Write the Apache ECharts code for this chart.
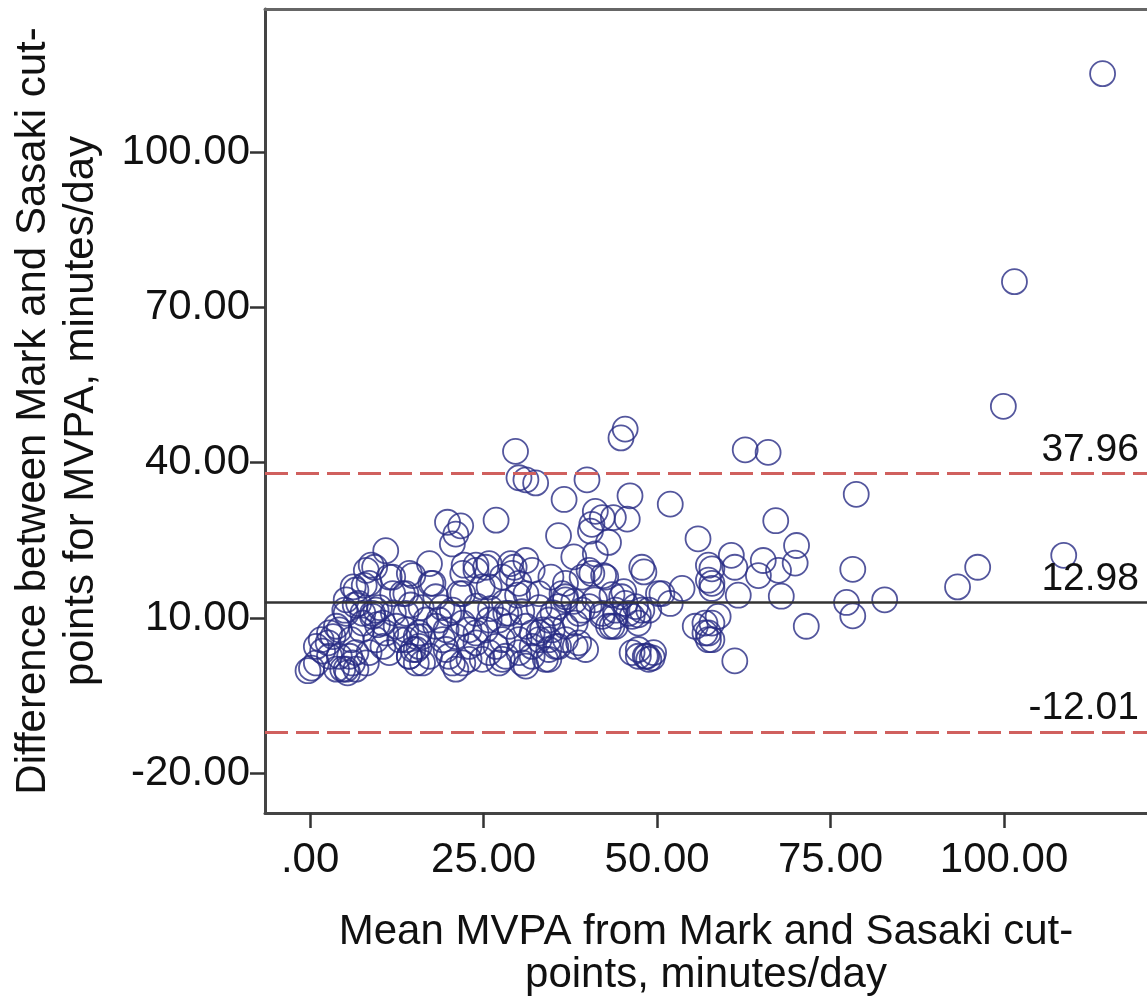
<!DOCTYPE html>
<html>
<head>
<meta charset="utf-8">
<script src="https://cdn.jsdelivr.net/npm/echarts@6/dist/echarts.min.js"></script>
<style>
  html, body { margin: 0; padding: 0; background: #fff; }
  #chart { width: 1147px; height: 1002px; }
</style>
</head>
<body>
<div id="chart"></div>
<script>
// Bland-Altman plot: Mark vs Sasaki cut-points, MVPA minutes/day

var X_TICKS = [0, 25, 50, 75, 100];
var Y_TICKS = [-20, 10, 40, 70, 100];

var MEAN_DIFF = 12.98;
var UPPER_LOA = 37.96;
var LOWER_LOA = -12.01;

// mean of the two methods (x)
var meanMvpa = [
  114.2, 101.5, 99.9, 45.4, 44.8, 29.6, 62.7, 66.0, 30.1, 31.1,
  32.5, 39.9, 36.6, 46.1, 51.9, 78.7, 26.8, 41.1, 40.6, 42.1,
  43.7, 45.7, 40.4, 43.0, 35.8, 55.9, 38.0, 41.1, 31.1, 28.9,
  47.8, 57.4, 19.8, 21.7, 21.0, 20.5, 10.9, 8.8, 17.2, 23.9,
  25.8, 67.1, 70.1, 60.7, 65.3, 69.9, 57.9, 61.2, 64.6, 67.5,
  78.2, 57.9, 57.9, 61.7, 67.9, 77.3, 82.8, 78.2, 71.5, 58.8,
  57.9, 56.9, 57.4, 61.2, 108.6, 96.2, 93.3, 9.3, 11.9, 7.8,
  14.8, 17.4, 22.2, 25.3, 29.4, 34.7, 36.3, 36.8, 31.1, 22.0,
  24.8, 13.8, 6.2, 5.2, 40.2, 42.3, 48.1, 50.2, 53.6, 51.9,
  45.2, 47.3, 43.0, 48.5,
  -0.3, 0.2, 0.9, 1.8, 2.6, 3.3, 4.2, 5.2, 4.7, 5.4,
  3.8, 6.1, 5.9, 7.4, 8.5, 9.0, 9.7, 10.9, 11.4, 12.9,
  13.8, 14.8, 15.3, 16.2, 16.7, 17.2, 18.6, 19.6, 20.5, 21.0,
  22.0, 22.9, 23.9, 25.3, 25.8, 27.2, 27.7,
  6.6, 8.5, 8.1, 11.4, 11.9, 14.3, 13.3, 17.7, 18.1, 22.0,
  23.9, 25.8, 27.7, 21.5,
  29.1, 32.0, 40.6, 42.6, 29.9, 33.0, 36.8, 40.2, 44.9, 45.4,
  50.7, 57.4, 56.9, 57.4, 57.9, 43.5, 47.3, 47.3, 48.3, 49.3,
  28.7, 31.1, 33.0, 32.0, 34.4, 34.9, 36.8, 38.2, 39.7, 30.6,
  28.2, 35.8, 47.8,
  0.9, 1.6, 2.8, 3.8, 5.0, 5.7, 5.2, 6.6, 7.6, 9.0,
  9.5, 10.5, 12.4, 13.8, 14.3, 15.3, 16.2, 15.7, 18.1, 19.1,
  20.0, 21.0, 22.0, 22.9, 23.9, 24.8, 25.8, 26.8, 27.7, 28.7,
  30.1, 31.1, 32.0, 33.0, 33.9, 34.4, 35.4, 36.8, 38.2, 39.2,
  44.0, 42.1, 45.9, 46.9, 48.8, 46.4, 47.3, 48.8, 49.5, 55.5,
  6.5, 10.0, 14.5, 19.0, 24.0, 28.0, 33.0, 38.0, 44.0,
  7.6, 9.5, 10.5, 13.8, 15.3, 15.7, 14.3, 19.6, 20.0, 22.9,
  23.9, 28.2, 4.2, 2.8, 6.6, 8.1,
  33.5, 34.4, 32.0, 30.1, 35.8, 38.7, 38.7, 42.1, 44.0, 46.4,
  27.2, 34.4, 30.1, 36.8, 39.2,
  7.0, 12.0, 16.0, 20.5, 26.0, 30.5, 35.0, 41.0, 43.5
];

// difference between the two methods (y)
var diffMvpa = [
  115.2, 75.0, 50.9, 46.5, 44.8, 42.2, 42.5, 42.0, 37.1, 36.7,
  36.1, 36.7, 32.9, 33.6, 32.0, 33.9, 28.9, 30.6, 28.1, 29.4,
  29.4, 29.1, 26.8, 24.6, 25.9, 25.3, 21.8, 22.4, 21.1, 20.5,
  19.8, 20.2, 28.5, 27.8, 26.2, 24.3, 23.0, 20.2, 20.5, 20.2,
  20.5, 28.8, 24.0, 22.1, 21.1, 20.6, 19.5, 19.8, 18.2, 19.2,
  19.4, 16.7, 15.7, 14.4, 14.2, 13.0, 13.5, 10.4, 8.4, 10.3,
  9.0, 7.1, 5.8, 1.7, 22.1, 19.8, 16.0, 19.8, 17.9, 16.3,
  18.2, 16.7, 20.2, 19.8, 19.8, 17.9, 14.7, 13.5, 14.7, 14.7,
  16.0, 14.7, 16.0, 13.5, 19.2, 18.2, 18.9, 14.7, 15.7, 12.8,
  15.1, 10.6, 8.4, 2.6,
  -0.2, 0.3, 1.3, 3.6, 5.2, 6.4, 7.7, 10.9, 0.1, -0.6,
  0.1, 1.3, 5.8, 7.7, 3.3, 10.3, 8.7, 7.1, 3.3, 5.8,
  7.7, 3.9, 1.3, 6.4, 9.6, 2.6, 9.6, 3.9, 1.3, 6.4,
  9.0, 2.0, 5.2, 7.7, 3.3, 9.6, 5.8,
  15.4, 16.7, 19.2, 17.9, 14.7, 18.6, 14.7, 16.7, 14.1, 18.6,
  19.2, 16.0, 17.9, 14.7,
  18.6, 19.2, 18.6, 17.9, 14.4, 14.7, 14.1, 12.2, 14.1, 12.8,
  14.7, 17.3, 9.0, 7.1, 5.8, 8.4, 9.0, 3.9, 2.6, 2.3,
  10.9, 8.4, 5.8, 2.6, 3.9, 7.7, 5.8, 9.0, 3.9, 1.3,
  2.6, 12.2, 11.5,
  4.5, 5.8, 7.1, 8.4, 11.5, 2.6, 0.1, 0.1, 9.0, 10.9,
  5.8, 9.0, 8.4, 5.8, 2.6, 3.9, 1.3, 7.1, 8.4, 5.8,
  2.6, 0.1, 1.3, 4.5, 7.1, 2.0, 9.6, 4.5, 2.0, 8.4,
  3.3, 0.7, 4.5, 7.1, 2.0, 9.6, 4.5, 8.4, 4.5, 11.5,
  8.4, 10.9, 10.9, 12.2, 11.5, 3.3, 2.6, 2.0, 3.3, 8.4,
  12.5, 12.0, 12.5, 12.0, 12.3, 13.0, 12.0, 13.2, 11.5,
  10.9, 11.5, 4.5, 10.9, 6.4, 4.5, 2.6, 7.7, 10.9, 7.7,
  10.9, 10.9, 2.6, 2.6, 3.3, 1.3,
  7.7, 5.8, 7.1, 5.8, 4.5, 5.2, 10.9, 10.3, 10.3, 10.3,
  1.3, 2.0, 16.7, 16.7, 17.9,
  12.8, 11.0, 12.0, 11.5, 11.8, 11.2, 11.0, 13.5, 14.5
];

var FONT = "'Liberation Sans', Arial, sans-serif";
var POINT_COLOR = '#282c84';
var LOA_COLOR = '#d0605e';
var X_MIN = -6.5;
var X_MAX = 120.6;

var points = meanMvpa.map(function(x, i) {
  return [x, diffMvpa[i]];
});

function fmt(v) {
  if (v === 0) return '.00';
  return v.toFixed(2);
}

var chart = echarts.init(document.getElementById('chart'));

chart.setOption({
  animation: false,
  grid: {
    left: 265,
    top: 9,
    width: 885,
    height: 813
  },
  xAxis: [{
    type: 'value',
    min: X_MIN,
    max: X_MAX,
    splitLine: { show: false },
    axisLine: { show: true, onZero: false, lineStyle: { color: '#444', width: 3 } },
    axisTick: {
      show: true,
      customValues: X_TICKS,
      length: 15,
      lineStyle: { color: '#333', width: 2.5 }
    },
    axisLabel: {
      customValues: X_TICKS,
      formatter: fmt,
      fontFamily: FONT,
      fontSize: 42,
      color: '#111',
      margin: 26
    },
    name: 'Mean MVPA from Mark and Sasaki cut-\npoints, minutes/day',
    nameLocation: 'middle',
    nameGap: 98,
    nameTextStyle: { fontFamily: FONT, fontSize: 42, color: '#111', lineHeight: 43 }
  }, {
    // top frame line of the plot box
    type: 'value',
    position: 'top',
    min: X_MIN,
    max: X_MAX,
    splitLine: { show: false },
    axisLine: { show: true, onZero: false, lineStyle: { color: '#666', width: 3 } },
    axisTick: { show: false },
    axisLabel: { show: false }
  }],
  yAxis: {
    type: 'value',
    min: -27.7,
    max: 127.7,
    splitLine: { show: false },
    axisLine: { show: true, onZero: false, lineStyle: { color: '#444', width: 3 } },
    axisTick: {
      show: true,
      customValues: Y_TICKS,
      length: 15,
      lineStyle: { color: '#333', width: 2.5 }
    },
    axisLabel: {
      customValues: Y_TICKS,
      formatter: fmt,
      fontFamily: FONT,
      fontSize: 42,
      color: '#111',
      margin: 15
    },
    name: 'Difference between Mark and Sasaki cut-\npoints for MVPA, minutes/day',
    nameLocation: 'middle',
    nameRotate: 90,
    nameGap: 160,
    nameTextStyle: { fontFamily: FONT, fontSize: 42, color: '#111', lineHeight: 48 }
  },
  series: [{
    type: 'scatter',
    data: points,
    symbol: 'circle',
    symbolSize: 25,
    itemStyle: {
      color: 'rgba(0,0,0,0)',
      borderColor: POINT_COLOR,
      borderWidth: 1.8
    },
    markLine: {
      silent: true,
      symbol: 'none',
      label: {
        position: 'insideEndTop',
        fontFamily: FONT,
        fontSize: 39,
        color: '#111',
        distance: [8, 4],
        formatter: function(p) { return p.value.toFixed(2); }
      },
      data: [
        { yAxis: UPPER_LOA, lineStyle: { color: LOA_COLOR, width: 3, type: [23, 8] } },
        { yAxis: MEAN_DIFF, lineStyle: { color: '#333', width: 2.5, type: 'solid' } },
        { yAxis: LOWER_LOA, lineStyle: { color: LOA_COLOR, width: 3, type: [23, 8] } }
      ]
    }
  }]
});
</script>
</body>
</html>
